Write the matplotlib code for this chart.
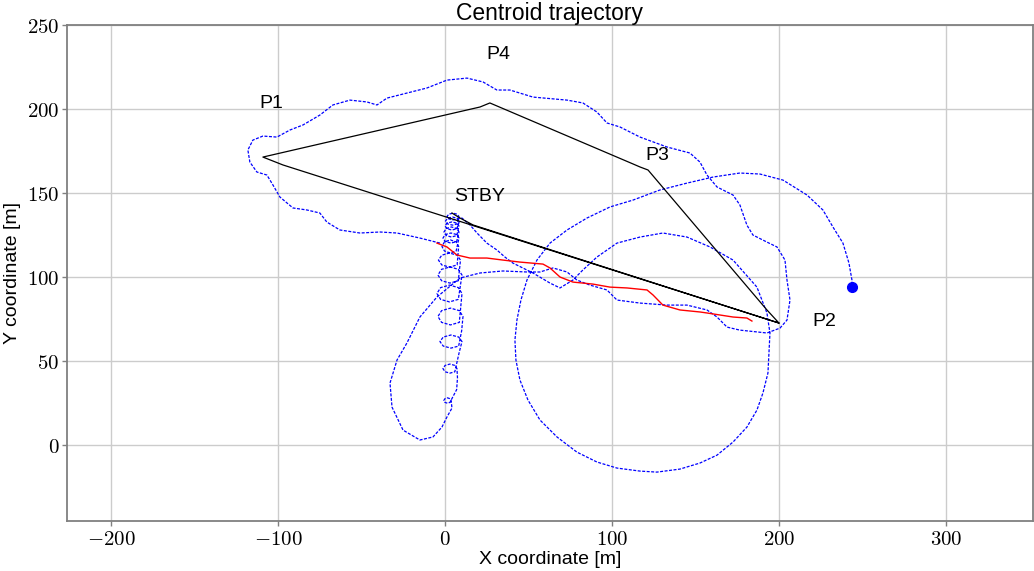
import matplotlib
matplotlib.use("Agg")
import matplotlib.pyplot as plt
from matplotlib.ticker import FuncFormatter, MultipleLocator

plt.rcParams['mathtext.fontset'] = 'cm'

# ---------------- data (metres) ----------------
# black reference path: STBY -> P2 -> P3 -> P4 -> P1 -> P2
ref_x = [4.2, 9.0, 16.8, 200.0, 192.8, 121.6, 116.8, 112.6, 26.9, 21.0, -109.0, -97.0, 200.0]
ref_y = [138.1, 135.1, 131.0, 72.6, 80.4, 163.7, 165.5, 167.3, 203.6, 201.2, 171.4, 166.7, 72.6]

# blue trajectory, part 1: outer loop around P1/P4/P3, back along the lower wave, lobe
outer_x = [-3.0, -15.0, -28.7, -38.9, -50.9, -62.9, -70.7, -74.9, -82.6, -91.0, -98.8, -103.0,
           -106.6, -112.6, -116.8, -118.0, -115.0, -109.0, -100.6, -92.8, -85.0, -74.9, -67.1,
           -56.9, -46.7, -40.7, -34.7, -22.8, -10.8, 1.2, 13.2, 22.8, 31.1, 38.9, 52.7, 73.1,
           82.6, 91.0, 97.0, 104.8, 116.8, 132.9, 146.7, 152.7, 156.9, 162.9, 172.5, 176.6,
           180.8, 184.4, 192.8, 198.8, 203.6, 204.8, 206.6, 204.8, 200.6, 192.8, 176.6, 168.9,
           162.9, 156.9, 144.9, 132.9, 116.8, 103.0, 97.0, 86.8, 79.0, 73.1, 64.7, 56.9, 49.1,
           34.7, 21.0, 9.0, -4.8, -15.0, -22.8, -28.7, -32.9, -31.7, -25.1, -15.0, -7.2, -1.8,
           1.2, 4.2]
outer_y = [120.2, 123.2, 126.2, 126.8, 126.2, 128.0, 132.7, 138.1, 139.9, 141.1, 147.6, 154.8,
           160.7, 162.5, 168.4, 175.6, 181.5, 183.9, 183.3, 187.5, 190.5, 196.4, 202.4,
           205.3, 204.2, 202.4, 206.5, 209.5, 212.5, 217.2, 218.4, 216.1, 211.3, 211.3, 207.1,
           205.3, 203.6, 198.2, 191.7, 189.3, 183.3, 177.4, 173.8, 168.4, 160.7, 153.6, 148.8,
           142.9, 130.9, 125.0, 120.8, 117.9, 110.1, 98.2, 86.3, 74.4, 69.6, 66.7, 68.4, 70.2,
           76.2, 80.4, 83.3, 83.3, 84.5, 86.3, 92.3, 95.2, 98.2, 103.0, 105.4, 103.0, 103.0,
           103.6, 102.4, 99.4, 88.1, 76.2, 60.7, 50.6, 36.9, 22.6, 8.9, 3.0, 4.8, 10.7,
           16.7, 22.0]

# blue trajectory, part 2: looping climb to STBY
loops_x = [3.7, 3.0, 1.5, 0.0, -0.7, 0.0, 1.5, 3.0, 7.0, 7.5,
           7.2, 5.9, 3.0, 0.1, -1.2, 0.1, 3.0, 5.9, 8.5,
           10.2, 8.2, 3.6, -1.0, -3.0, -1.0, 3.6, 8.2, 10.0,
           10.8, 8.6, 3.3, -2.0, -4.2, -2.0, 3.3, 8.6,
           10.2, 8.0, 2.7, -2.6, -4.8, -2.6, 2.7, 8.0,
           10.2, 8.0, 3.0, -2.0, -4.2, -2.0, 3.0, 8.0,
           9.3, 7.3, 2.7, -1.9, -3.9, -1.9, 2.7, 7.3,
           8.2, 6.7, 3.2, -0.3, -1.8, -0.3, 3.2, 6.7,
           8.4, 7.0, 3.6, 0.2, -1.2, 0.2, 3.6, 7.0,
           8.4, 7.1, 3.9, 0.8, -0.6, 0.8, 3.9, 7.1,
           8.4, 7.1, 4.2, 1.3, 0.0, 1.3, 4.2, 7.1,
           8.7, 7.4, 4.5, 1.6, 0.3, 1.6, 4.5, 7.4,
           8.4, 7.3, 4.8, 2.3, 1.2, 2.3, 4.8, 7.3]
loops_y = [26.5, 27.6, 28.1, 27.6, 26.5, 25.4, 24.9, 25.4, 33.0, 40.0,
           45.5, 47.4, 48.2, 47.4, 45.5, 43.6, 42.8, 43.6, 55.0,
           61.6, 64.3, 65.5, 64.3, 61.6, 58.9, 57.7, 58.9, 68.0,
           76.5, 80.0, 81.5, 80.0, 76.5, 73.0, 71.5, 73.0,
           90.2, 93.7, 95.2, 93.7, 90.2, 86.7, 85.2, 86.7,
           101.2, 104.6, 106.0, 104.6, 101.2, 97.8, 96.4, 97.8,
           110.1, 113.0, 114.3, 113.0, 110.1, 107.2, 105.9, 107.2,
           118.2, 120.9, 122.1, 120.9, 118.2, 115.5, 114.3, 115.5,
           123.2, 125.3, 126.2, 125.3, 123.2, 121.1, 120.2, 121.1,
           126.8, 128.9, 129.8, 128.9, 126.8, 124.7, 123.8, 124.7,
           130.4, 132.1, 132.8, 132.1, 130.4, 128.7, 128.0, 128.7,
           133.3, 135.0, 135.7, 135.0, 133.3, 131.6, 130.9, 131.6,
           136.0, 137.4, 138.0, 137.4, 136.0, 134.6, 134.0, 134.6]

# blue trajectory, part 3: STBY -> inner arc -> big circle -> end point
spiral_x = [10.2, 15.0, 19.2, 25.1, 31.1, 35.9, 40.7, 52.7, 62.9, 68.9, 76.6, 82.6, 91.0,
            103.0, 116.8, 130.5, 144.9, 158.7, 172.5, 186.8, 192.8, 194.6, 194.0, 193.4,
            190.4, 186.8, 180.8, 172.5, 162.9, 152.7, 140.7, 126.9, 116.8, 103.0, 91.0,
            79.0, 67.1, 56.9, 49.7, 44.9, 42.5, 41.9, 43.1, 45.5, 49.1, 55.1, 62.9, 73.1,
            85.0, 98.8, 112.6, 128.7, 144.9, 160.5, 176.6, 188.6, 202.4, 216.8, 226.3,
            232.3, 238.3, 241.9, 243.7, 243.7]
spiral_y = [135.1, 131.0, 126.2, 120.2, 116.1, 111.9, 108.3, 102.4, 96.4, 93.5, 98.2, 104.2,
            111.9, 120.2, 123.8, 126.2, 123.8, 117.9, 110.1, 94.0, 78.6, 66.7, 54.8, 42.9,
            31.0, 20.8, 10.7, 1.8, -6.0, -10.7, -14.3, -16.1, -15.5, -13.7, -10.1,
            -4.2, 4.8, 14.9, 26.8, 38.7, 50.6, 62.5, 74.4, 86.3, 98.2, 110.1, 120.2, 128.0,
            135.1, 141.7, 145.8, 151.8, 155.9, 159.5, 161.9, 161.3, 157.7, 148.8, 139.9,
            129.8, 120.2, 108.3, 98.2, 94.0]

# red path
red_x = [-4.8, 1.2, 7.2, 15.0, 25.1, 34.7, 44.9, 58.7, 62.9, 68.9, 76.6, 88.6, 98.8, 109.0,
         121.0, 124.6, 130.5, 140.7, 152.7, 156.9, 172.5, 180.8, 183.8]
red_y = [120.2, 117.9, 113.1, 111.3, 111.3, 110.1, 108.9, 107.7, 105.4, 100.0, 97.0, 95.8,
         94.0, 93.5, 92.3, 89.3, 83.3, 80.4, 79.2, 78.6, 76.2, 75.6, 73.8]

end_point = (243.7, 94.0)

labels = ["P1", "P2", "P3", "P4", "STBY"]
label_x = [-104.0, 227.0, 127.0, 32.0, 21.0]
label_y = [203.0, 73.5, 172.5, 232.5, 148.0]

x_ticks = [-200, -100, 0, 100, 200, 300]
y_ticks = [0, 50, 100, 150, 200, 250]

# ---------------- plot ----------------
fig = plt.figure(figsize=(10.34, 5.71), dpi=100)
ax = fig.add_axes([67/1034, 50/571, 966/1034, 496/571])

dash = (0, (2.4, 1.2))
blue = '#0000ff'
ax.plot(outer_x + loops_x + spiral_x, outer_y + loops_y + spiral_y,
        color=blue, lw=0.9, linestyle=dash, zorder=3)
ax.plot(ref_x, ref_y, color='black', lw=0.9, zorder=4)
ax.plot(red_x, red_y, color='#ff0000', lw=1.0, zorder=5)
ax.plot([end_point[0]], [end_point[1]], 'o', color=blue, ms=7, zorder=6)

sans = ['Liberation Sans', 'DejaVu Sans']
for t, x, y in zip(labels, label_x, label_y):
    ax.text(x, y, t, ha='center', va='center', fontsize=14, family=sans)

ax.set_xlim(-226.3, 352.1)
ax.set_ylim(-45.2, 250)
ax.set_xticks(x_ticks)
ax.set_yticks(y_ticks)
fmt = FuncFormatter(lambda v, p: r'$%d$' % v)
ax.xaxis.set_major_formatter(fmt)
ax.yaxis.set_major_formatter(fmt)
ax.tick_params(labelsize=15, color='#808080', length=3.5, width=1.0, pad=2)
ax.grid(True, color='#cccccc', lw=1.0)
ax.set_axisbelow(True)
for s in ax.spines.values():
    s.set_color('#808080')
    s.set_linewidth(1.3)

ax.set_title('Centroid trajectory', fontsize=16.5, family=sans, pad=3)
ax.set_xlabel('X coordinate [m]', fontsize=14, family=sans, labelpad=2)
ax.set_ylabel('Y coordinate [m]', fontsize=14, family=sans, labelpad=4)

fig.savefig('out.png', dpi=100)
